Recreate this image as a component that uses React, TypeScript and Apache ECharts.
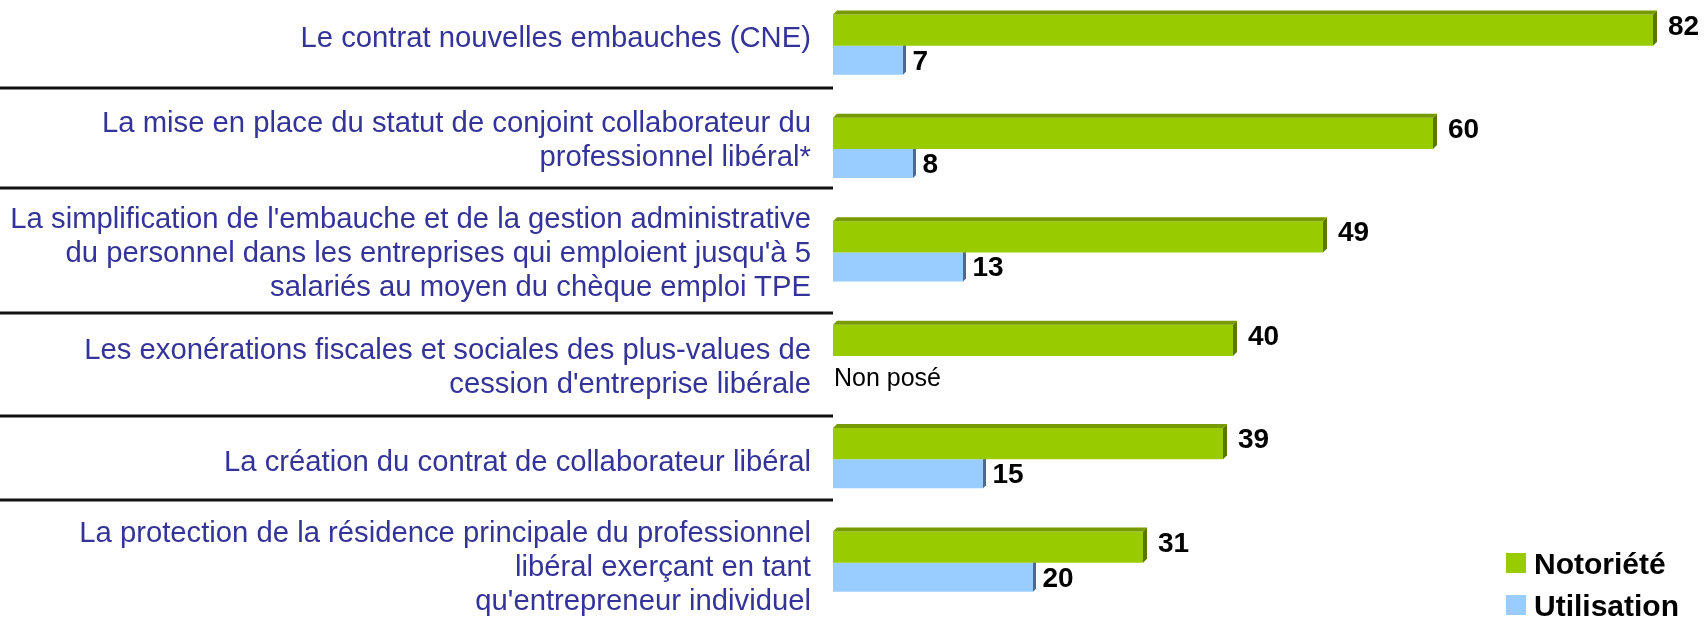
import React, { useEffect, useRef } from "react";
import * as echarts from "echarts";

const categories = [
  "Le contrat nouvelles embauches (CNE)",
  "La mise en place du statut de conjoint collaborateur du\nprofessionnel libéral*",
  "La simplification de l'embauche et de la gestion administrative\ndu personnel dans les entreprises qui emploient jusqu'à 5\nsalariés au moyen du chèque emploi TPE",
  "Les exonérations fiscales et sociales des plus-values de\ncession d'entreprise libérale",
  "La création du contrat de collaborateur libéral",
  "La protection de la résidence principale du professionnel\nlibéral exerçant en tant\nqu'entrepreneur individuel",
];
const notoriete = [82, 60, 49, 40, 39, 31];
const utilisation: (number | null)[] = [7, 8, 13, null, 15, 20];
const seriesNames = ["Notoriété", "Utilisation"];
const missingLabel = "Non posé";

// label vertical nudges (px, negative = up)
const labelShift = [-9, -10, -1, 10, 2, 3];
// chart div is lifted by OFFSET px so that the first band starts above the page
const OFFSET = 6;
const separatorsY = [88, 188, 313, 416, 500];

const FONT = "'Liberation Sans', Arial, sans-serif";
const LABEL_COLOR = "#333399";
const LABEL_SIZE = 29.25;
const LABEL_LH = 34;

function makeRender(kind: "green" | "blue") {
  const front = kind === "green" ? "#99cc00" : "#99ccff";
  const top = "#769a00";
  const side = kind === "green" ? "#5a7800" : "#4e6a8a";
  return (params: any, api: any) => {
    const v = api.value(0);
    const cat = api.value(1);
    const [x1, yc] = api.coord([v, cat]);
    const [x0] = api.coord([0, cat]);
    const band = api.size([0, 1])[1];
    const h = kind === "green" ? band * 0.302 : band * 0.28;
    const yTop = kind === "green" ? yc - h : yc;
    const d = kind === "green" ? 4 : 3;
    const children: any[] = [
      {
        type: "rect",
        shape: { x: x0, y: yTop, width: x1 - x0, height: h },
        style: { fill: front },
      },
      {
        type: "polygon",
        shape: {
          points: [
            [x1, yTop],
            [x1 + d, yTop - d],
            [x1 + d, yTop + h - d],
            [x1, yTop + h],
          ],
        },
        style: { fill: side },
      },
    ];
    if (kind === "green") {
      children.push({
        type: "polygon",
        shape: {
          points: [
            [x0, yTop],
            [x0 + d, yTop - d],
            [x1 + d, yTop - d],
            [x1, yTop],
          ],
        },
        style: { fill: top },
      });
    }
    children.push({
      type: "text",
      x: x1 + (kind === "green" ? 15 : 9.5),
      y: yTop + h / 2 - (kind === "green" ? 5 : 0),
      style: {
        text: String(v),
        fill: "#000",
        font: `bold 28px ${FONT}`,
        textAlign: "left",
        textVerticalAlign: "middle",
      },
    });
    return { type: "group", children };
  };
}

function buildRich() {
  const rich: any = {
    n: {
      color: LABEL_COLOR,
      fontFamily: FONT,
      fontSize: LABEL_SIZE,
      lineHeight: LABEL_LH,
      align: "right",
    },
  };
  labelShift.forEach((s, i) => {
    rich[`s${i}`] = {
      fontSize: 1,
      lineHeight: Math.max(1, Math.abs(2 * s)),
      align: "right",
    };
  });
  return rich;
}

function formatLabel(value: string, index: number) {
  const lines = value.split("\n").map((l) => `{n|${l}}`);
  const s = labelShift[index];
  const spacer = `{s${index}| }`;
  if (s < 0) lines.push(spacer);
  else if (s > 0) lines.unshift(spacer);
  return lines.join("\n");
}

export default function App() {
  const ref = useRef<HTMLDivElement>(null);
  useEffect(() => {
    if (!ref.current) return;
    const chart = echarts.init(ref.current, undefined, { renderer: "svg" });
    const greenData = notoriete.map((v, i) => [v, i]);
    const blueData = utilisation
      .map((v, i) => (v === null ? null : [v, i]))
      .filter((d) => d !== null);
    const missingData = utilisation
      .map((v, i) => (v === null ? [0, i] : null))
      .filter((d) => d !== null);

    chart.setOption({
      animation: false,
      grid: { left: 833, right: 0, top: 0, bottom: 7.6 },
      xAxis: { type: "value", min: 0, max: 87.5, show: false },
      yAxis: {
        type: "category",
        inverse: true,
        data: categories,
        axisLine: { show: false },
        axisTick: { show: false },
        splitLine: { show: false },
        axisLabel: {
          interval: 0,
          margin: 22,
          color: LABEL_COLOR,
          fontFamily: FONT,
          fontSize: LABEL_SIZE,
          lineHeight: LABEL_LH,
          align: "right",
          formatter: formatLabel,
          rich: buildRich(),
        },
      },
      legend: {
        data: seriesNames,
        orient: "vertical",
        left: 1506,
        top: 548 + OFFSET,
        height: 200,
        padding: 0,
        icon: "rect",
        itemWidth: 20,
        itemHeight: 20,
        itemGap: 12,
        textStyle: {
          color: "#000",
          fontWeight: "bold",
          fontSize: 30,
          lineHeight: 30,
          fontFamily: FONT,
          padding: [0, 0, 0, 3],
        },
      },
      graphic: separatorsY.map((y) => ({
        type: "line",
        shape: { x1: 0, y1: y + OFFSET, x2: 833, y2: y + OFFSET },
        style: { stroke: "#111", lineWidth: 3 },
      })),
      series: [
        {
          name: seriesNames[1],
          type: "custom",
          itemStyle: { color: "#99ccff" },
          renderItem: makeRender("blue"),
          encode: { x: 0, y: 1 },
          data: blueData,
          z: 2,
        },
        {
          name: seriesNames[0],
          type: "custom",
          itemStyle: { color: "#99cc00" },
          renderItem: makeRender("green"),
          encode: { x: 0, y: 1 },
          data: greenData,
          z: 3,
        },
        {
          name: "missing",
          type: "custom",
          renderItem: (params: any, api: any) => {
            const [x0, yc] = api.coord([api.value(0), api.value(1)]);
            return {
              type: "text",
              x: x0 + 1,
              y: yc + 21,
              style: {
                text: missingLabel,
                fill: "#000",
                font: `25px ${FONT}`,
                textAlign: "left",
                textVerticalAlign: "middle",
              },
            };
          },
          encode: { x: 0, y: 1 },
          data: missingData,
          z: 4,
        },
      ],
    });
    return () => chart.dispose();
  }, []);
  return (
    <div
      ref={ref}
      style={{
        position: "fixed",
        left: 0,
        top: -OFFSET,
        width: 1708,
        height: 622 + OFFSET,
      }}
    />
  );
}
